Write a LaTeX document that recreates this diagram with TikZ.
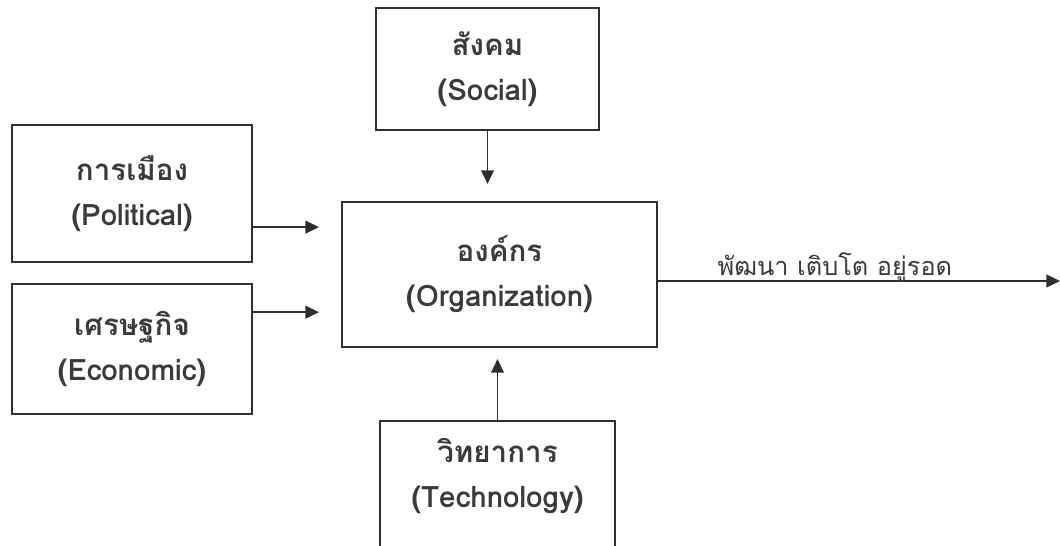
\documentclass[tikz,border=0pt]{standalone}
\usepackage{fontspec}
\newfontfamily\thaifont[Script=Thai]{Loma}
\usetikzlibrary{arrows.meta}

\definecolor{inkgray}{HTML}{2E2E2E}
\definecolor{txtgray}{HTML}{3A3A3A}

\tikzset{
  thaitext/.style={text=txtgray, align=center, font=\thaifont\bfseries\fontsize{21}{32}\selectfont},
  box/.style={thaitext, draw=inkgray, line width=1.4pt},
  arr/.style={draw=inkgray, line width=1.2pt, -{Triangle[length=0.34cm,width=0.32cm]}},
}

\begin{document}
\begin{tikzpicture}[x=0.025cm, y=-0.025cm]
  \useasboundingbox (0,0) rectangle (1060,546);

  % factor boxes
  \node[box, minimum width=6cm, minimum height=3.42cm] (pol) at (132,193.5) {การเมือง\\(Political)};
  \node[box, minimum width=6cm, minimum height=3.25cm] (eco) at (132,349) {เศรษฐกิจ\\(Economic)};
  \node[box, minimum width=5.575cm, minimum height=3.05cm] (soc) at (487.5,69) {สังคม\\(Social)};
  \node[box, minimum width=7.875cm, minimum height=3.62cm] (org) at (499.5,274.5) {องค์กร\\(Organization)};

  % technology box runs off the page
  \node[box, minimum width=5.875cm, minimum height=3.75cm, anchor=north] (tech) at (497.5,420) {};
  \node[thaitext] (tech-text) at (497.5,476) {วิทยาการ\\(Technology)};

  \draw[arr, shorten >=0.55cm] ([yshift=-0.84cm]pol.east) coordinate (p-1) -- (p-1 -| org.west);
  \draw[arr, shorten >=0.55cm] ([yshift=0.92cm]eco.east) coordinate (e-1) -- (e-1 -| org.west);
  \draw[arr, shorten >=0.43cm] (soc.south) -- (soc.south |- org.north);
  \draw[arr, shorten >=0.28cm] (tech.north) -- (tech.north |- org.south);

  \coordinate (out) at (1060,281);
  \draw[arr] (org.east |- out) -- (out)
    node[thaitext, font=\thaifont\fontsize{18}{24}\selectfont, pos=0.44, anchor=base, yshift=0.15cm] (out-label) {พัฒนา เติบโต อยู่รอด};
\end{tikzpicture}
\end{document}
